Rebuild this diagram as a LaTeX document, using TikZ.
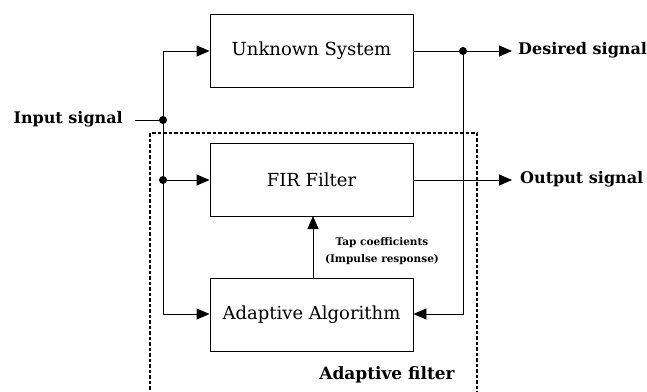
\documentclass[tikz,border=0pt]{standalone}
\usepackage{fontspec}
\setmainfont{DejaVu Serif}
\usetikzlibrary{arrows.meta}
\begin{document}
\begin{tikzpicture}[x=1pt,y=-1pt,
  block/.style={draw,line width=0.9pt,minimum width=203pt,minimum height=73pt,inner sep=0pt,font=\fontsize{18}{20}\selectfont},
  lbl/.style={inner sep=0pt,font=\fontsize{16}{18}\selectfont\bfseries},
  wire/.style={line width=0.9pt},
  arr/.style={wire,-{Triangle[length=13pt,width=11pt]}},
  dot/.style={circle,fill,inner sep=0pt,minimum size=8pt},
  dashbox/.style={line width=1.6pt,dash pattern=on 3.5pt off 2pt}]
\useasboundingbox (0,0) rectangle (647,391);
% dashed adaptive filter region
\draw[dashbox] (150,395) -- (150,133) -- (477,133) -- (477,395);
% blocks
\node[block] (us) at (311.5,50.5) {Unknown System};
\node[block] (fir) at (311.5,179.5) {FIR Filter};
\node[block] (aa) at (311.5,315) {Adaptive Algorithm};
% labels
\node[lbl,anchor=east] (in) at (123,119) {Input signal};
\node[lbl,anchor=west] (des) at (518,50) {Desired signal};
\node[lbl,anchor=west] (out) at (520,179) {Output signal};
\node[lbl,font=\fontsize{17}{18}\selectfont\bfseries] (af) at (387,375) {Adaptive filter};
\node[inner sep=0pt,align=center,font=\fontsize{10.5}{17}\selectfont\bfseries] (tap) at (382,251) {Tap coefficients\\(Impulse response)};
% junctions
\node[dot] (j1) at (163,120) {};
\node[dot] (j2) at (163,180) {};
\node[dot] (jd) at (463,51) {};
\coordinate (inS) at (135,120);
\coordinate (c1) at (163,51);
\coordinate (c2) at (163,314);
\coordinate (e1) at (463,314);
\coordinate (dEnd) at (512,51);
\coordinate (oEnd) at (512,180);
\coordinate (tapS) at (313,278);
\coordinate (tapE) at (313,216);
% connectors
\draw[wire] (inS) -- (j1.center);
\draw[arr] (j1.center) -- (c1) -- (us.west |- c1);
\draw[wire] (j1.center) -- (j2.center);
\draw[arr] (j2.center) -- (fir.west |- j2);
\draw[arr] (j2.center) -- (c2) -- (aa.west |- c2);
\draw[wire] (us.east |- jd) -- (jd.center);
\draw[arr] (jd.center) -- (dEnd);
\draw[arr] (jd.center) -- (e1) -- (aa.east |- e1);
\draw[arr] (fir.east |- oEnd) -- (oEnd);
\draw[arr] (tapS) -- (tapE);
\end{tikzpicture}
\end{document}
